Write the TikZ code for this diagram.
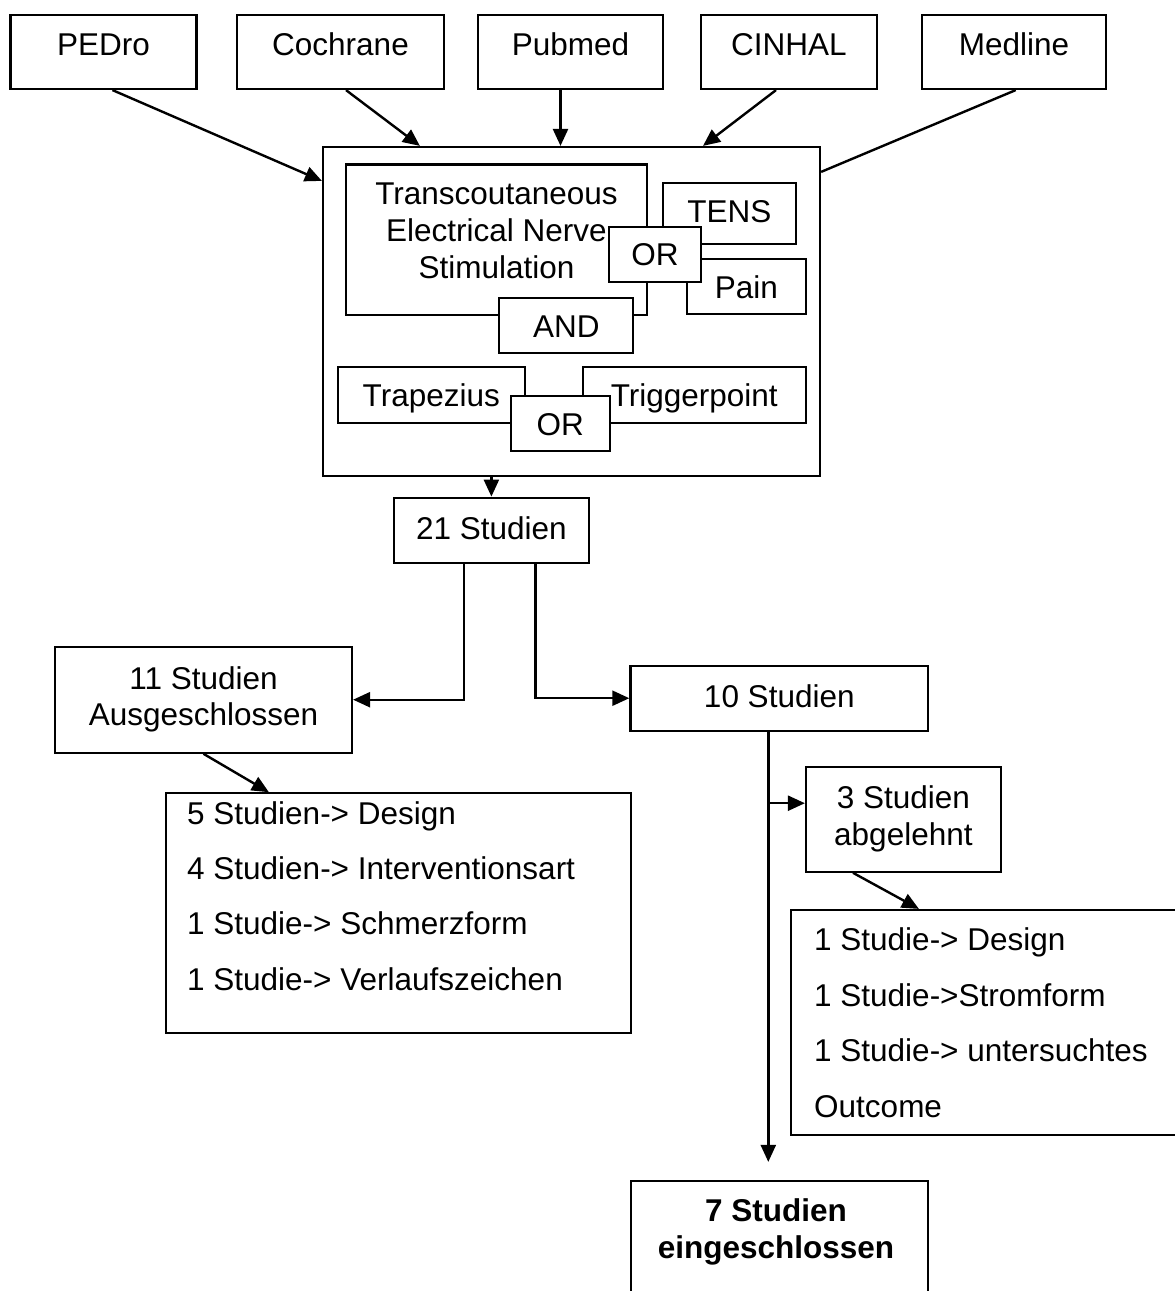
\documentclass[tikz,border=0pt]{standalone}
\usepackage{fontspec}
\setmainfont{Liberation Sans}
\usetikzlibrary{arrows.meta}
\begin{document}
\begin{tikzpicture}[x=1pt,y=-1pt,
  every node/.style={font=\fontsize{31.5}{37}\selectfont},
  box/.style={draw, line width=2.2pt, fill=white, inner sep=0pt, rectangle},
  topbox/.style={box, minimum height=74pt, text height=22.5pt, text depth=16.5pt},
  inbox/.style={box, text height=23.5pt, text depth=0pt},
  midbox/.style={box, text height=22.5pt, text depth=4.5pt},
  plain/.style={inner sep=0pt},
  arr/.style={line width=2.4pt, -{Triangle[length=17pt,width=15pt]}},
  con/.style={line width=2.4pt}
]
\useasboundingbox (0,0) rectangle (1175,1291);
\clip (0,0) rectangle (1175,1291);
\fill[white] (0,0) rectangle (1175,1291);

% sources
\node[topbox, minimum width=186pt] (pedro) at (103.5,52) {PEDro};
\node[topbox, minimum width=207pt] (cochrane) at (340.5,52) {Cochrane};
\node[topbox, minimum width=185pt] (pubmed) at (570.5,52) {Pubmed};
\node[topbox, minimum width=176pt] (cinhal) at (789,52) {CINHAL};
\node[topbox, minimum width=184pt] (medline) at (1014,52) {Medline};

% search box
\node[box, minimum width=497pt, minimum height=329pt] (main) at (571.5,311.5) {};
\node[box, minimum width=301pt, minimum height=150.5pt] (tensbox) at (496.2,239.75) {};
\node[plain, anchor=north, align=center] (tenstext) at (496.5,182.4) {Transcoutaneous\\Electrical Nerve\\Stimulation};
\node[midbox, minimum width=133.3pt, minimum height=61.3pt] (tens) at (729.4,213.4) {TENS};
\node[inbox, minimum width=119.3pt, minimum height=55pt] (pain) at (746.3,286.6) {Pain};
\node[inbox, minimum width=92pt, minimum height=55pt] (ora) at (655,254.2) {OR};
\node[inbox, minimum width=134pt, minimum height=55.3pt] (and) at (566.3,325.3) {AND};
\node[inbox, minimum width=187.3pt, minimum height=55.7pt] (trap) at (431.3,394.8) {Trapezius};
\node[inbox, minimum width=223.3pt, minimum height=55.7pt] (trig) at (694.3,394.8) {Triggerpoint};
\node[inbox, minimum width=99.3pt, minimum height=55pt] (orb) at (560.3,423.5) {OR};

% results
\node[midbox, minimum width=195.2pt, minimum height=65pt] (s21) at (491.4,530.2) {21 Studien};
\node[box, minimum width=297pt, minimum height=106pt, align=center, font=\fontsize{31.5}{36}\selectfont] (s11) at (203.5,699.7) {11 Studien\\Ausgeschlossen};
\node[midbox, minimum width=297.8pt, minimum height=65pt] (s10) at (779.3,698.2) {10 Studien};
\node[box, minimum width=194.8pt, minimum height=105pt, align=center] (s3) at (903.4,819.2) {3 Studien\\abgelehnt};

\node[box, minimum width=465pt, minimum height=239.4pt] (list1) at (398.5,913) {};
\node[plain, anchor=north west, align=left, font=\fontsize{31.5}{55.3}\selectfont] (list1text) at (187,801.1) {5 Studien-> Design\\4 Studien-> Interventionsart\\1 Studie-> Schmerzform\\1 Studie-> Verlaufszeichen};

\node[box, minimum width=459pt, minimum height=225pt] (list2) at (1020.5,1022.5) {};
\node[plain, anchor=north west, align=left, font=\fontsize{31.5}{55.4}\selectfont] (list2text) at (814,927.8) {1 Studie-> Design\\1 Studie->Stromform\\1 Studie-> untersuchtes\\Outcome};

\node[box, minimum width=296.7pt, minimum height=159pt] (s7) at (779.35,1260.5) {};
\node[plain, anchor=north, align=center, font=\bfseries\fontsize{31.5}{36.3}\selectfont] (s7text) at (776,1198.8) {7 Studien\\eingeschlossen};

% connectors
\coordinate (pb) at ([xshift=-10pt]pubmed.south);
\draw[arr] ([xshift=9pt]pedro.south) -- ([yshift=-35pt]main.north west);
\draw[arr] ([xshift=5.5pt]cochrane.south) -- ([xshift=98pt]main.north west);
\draw[arr] (pb) -- (pb |- main.north);
\draw[arr] ([xshift=-13pt]cinhal.south) -- ([xshift=131.5pt]main.north);
\draw[con] ([xshift=1.7pt]medline.south) -- ([yshift=-26pt]main.north east);

\draw[arr] (s21.north |- main.south) -- (s21.north);
\draw[arr] ([xshift=-27.4pt]s21.south) |- (s11.east);
\draw[arr] ([xshift=44pt]s21.south) |- (s10.west);
\draw[arr] (s11.south) -- ([xshift=104pt]list1.north west);

\coordinate (v10) at ([xshift=-11pt]s10.south);
\coordinate (t7) at ([yshift=18pt]s7.north);
\coordinate (a3) at ([yshift=16pt]s3.west);
\draw[arr] (v10) -- (v10 |- t7);
\draw[arr] (v10 |- a3) -- (a3);
\draw[arr] ([xshift=-50.4pt]s3.south) -- ([xshift=129pt]list2.north west);
\end{tikzpicture}
\end{document}
